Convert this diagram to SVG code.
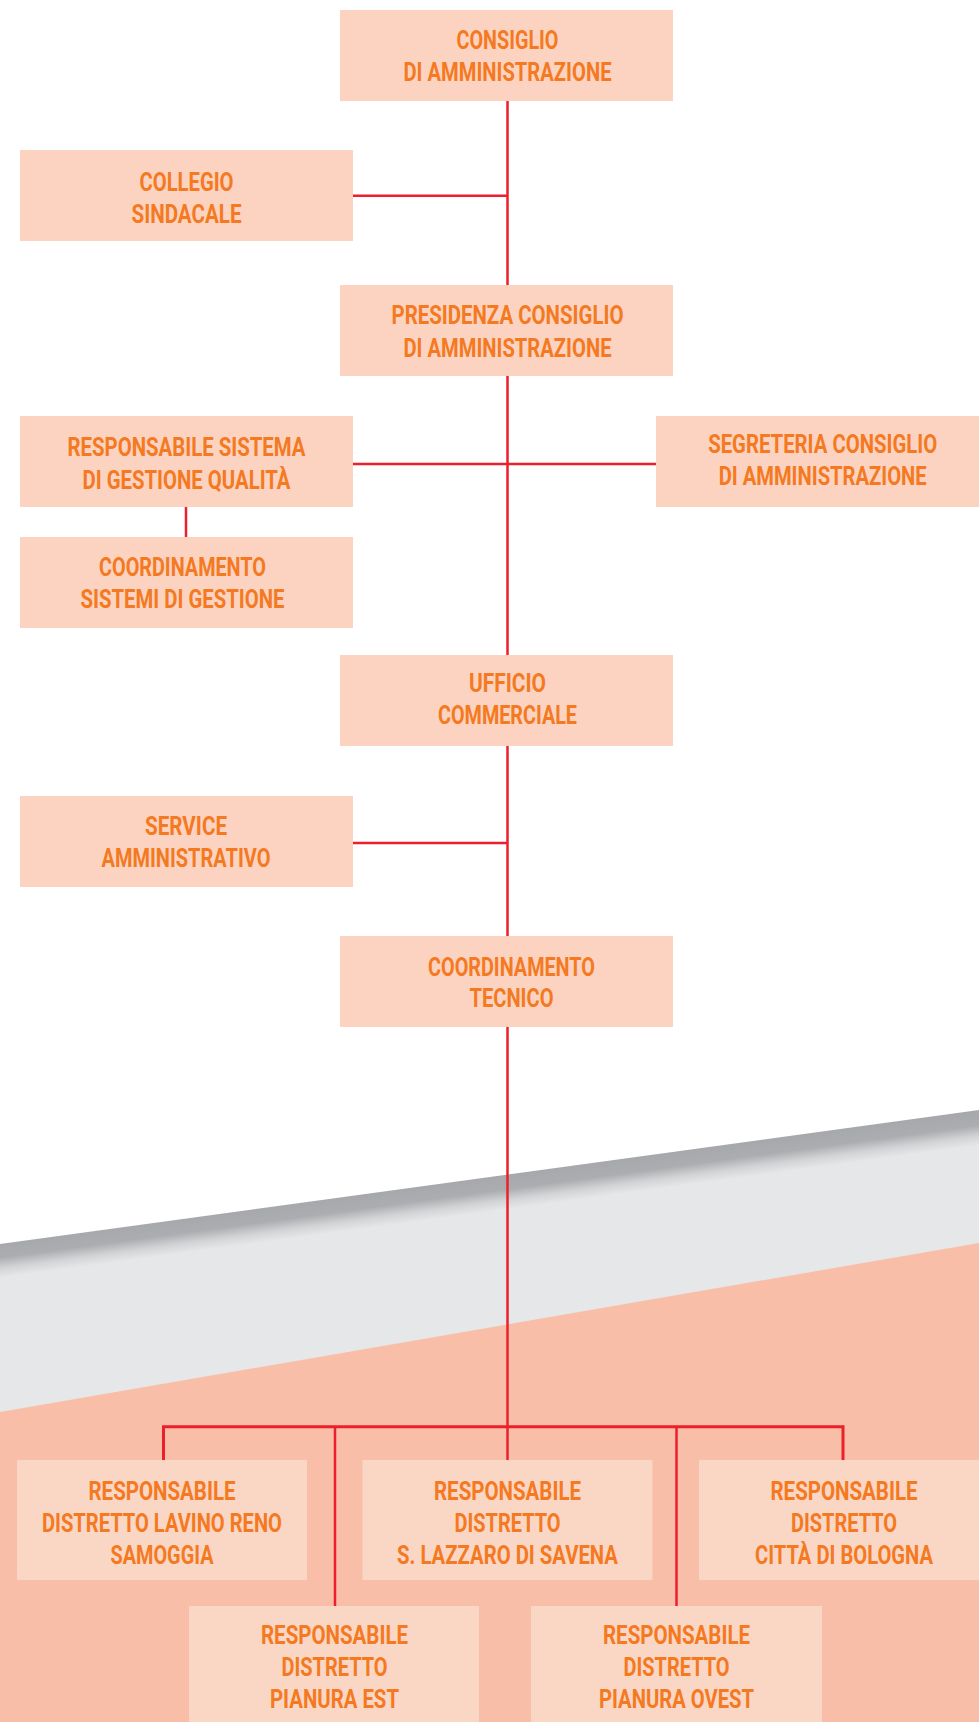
<svg xmlns="http://www.w3.org/2000/svg" width="979" height="1722" viewBox="0 0 979 1722">
  <defs>
    <style>
      .box { fill: #fcd3c1; }
      .box2 { fill: #fad6c5; }
      .lbl { font-family: Roboto, "Liberation Sans", "DejaVu Sans", sans-serif; font-weight: 700; font-size: 25px; fill: #f47920; text-anchor: middle; }
      .wire { fill: none; stroke: #ec1f2b; stroke-width: 2.5; }
      .bus { fill: none; stroke: #ec1f2b; stroke-width: 3; }
    </style>
    <!-- shadow falling across the grey band, perpendicular to its top edge -->
    <linearGradient id="bandShade" gradientUnits="userSpaceOnUse" x1="490" y1="1177" x2="494.6" y2="1211">
      <stop offset="0" stop-color="#a7a8ab"/>
      <stop offset="0.42" stop-color="#acadb0"/>
      <stop offset="0.72" stop-color="#d2d3d5"/>
      <stop offset="1" stop-color="#e6e7e8"/>
    </linearGradient>
  </defs>

  <!-- background -->
  <rect x="0" y="0" width="979" height="1722" fill="#ffffff"/>
  <polygon points="0,1244 979,1110 979,1722 0,1722" fill="url(#bandShade)"/>
  <polygon points="0,1412 979,1243 979,1722 0,1722" fill="#f9bea7"/>

  <!-- connectors -->
  <g id="connectors">
    <line class="wire" x1="507.5" y1="100" x2="507.5" y2="1460"/>
    <line class="wire" x1="353" y1="195.7" x2="507.5" y2="195.7"/>
    <line class="wire" x1="353" y1="464" x2="656" y2="464"/>
    <line class="wire" x1="186" y1="506" x2="186" y2="537"/>
    <line class="wire" x1="353" y1="843" x2="507.5" y2="843"/>
    <path class="bus" d="M163.5,1460 V1426.7 H843 V1460"/>
    <line class="wire" x1="335" y1="1426.7" x2="335" y2="1606"/>
    <line class="wire" x1="676.5" y1="1426.7" x2="676.5" y2="1606"/>
  </g>

  <g id="consiglio">
    <rect class="box" x="340" y="10" width="333" height="91"/>
    <text class="lbl" x="507.5" y="48.5" textLength="102" lengthAdjust="spacingAndGlyphs">CONSIGLIO</text>
    <text class="lbl" x="507.5" y="81" textLength="208" lengthAdjust="spacingAndGlyphs">DI AMMINISTRAZIONE</text>
  </g>

  <g id="collegio">
    <rect class="box" x="20" y="150" width="333" height="91"/>
    <text class="lbl" x="186.5" y="191" textLength="94" lengthAdjust="spacingAndGlyphs">COLLEGIO</text>
    <text class="lbl" x="186.5" y="222.7" textLength="110" lengthAdjust="spacingAndGlyphs">SINDACALE</text>
  </g>

  <g id="presidenza">
    <rect class="box" x="340" y="285" width="333" height="91"/>
    <text class="lbl" x="507.5" y="324.3" textLength="232" lengthAdjust="spacingAndGlyphs">PRESIDENZA CONSIGLIO</text>
    <text class="lbl" x="507.5" y="356.5" textLength="208" lengthAdjust="spacingAndGlyphs">DI AMMINISTRAZIONE</text>
  </g>

  <g id="resp-qualita">
    <rect class="box" x="20" y="416" width="333" height="91"/>
    <text class="lbl" x="186.5" y="456" textLength="238" lengthAdjust="spacingAndGlyphs">RESPONSABILE SISTEMA</text>
    <text class="lbl" x="186.5" y="488.5" textLength="208" lengthAdjust="spacingAndGlyphs">DI GESTIONE QUALITÀ</text>
  </g>

  <g id="segreteria">
    <rect class="box" x="656" y="416" width="323" height="91"/>
    <text class="lbl" x="822.7" y="453.3" textLength="229" lengthAdjust="spacingAndGlyphs">SEGRETERIA CONSIGLIO</text>
    <text class="lbl" x="822.7" y="485" textLength="208" lengthAdjust="spacingAndGlyphs">DI AMMINISTRAZIONE</text>
  </g>

  <g id="coord-sistemi">
    <rect class="box" x="20" y="537" width="333" height="91"/>
    <text class="lbl" x="182.5" y="576" textLength="167" lengthAdjust="spacingAndGlyphs">COORDINAMENTO</text>
    <text class="lbl" x="182.5" y="608" textLength="204" lengthAdjust="spacingAndGlyphs">SISTEMI DI GESTIONE</text>
  </g>

  <g id="ufficio-commerciale">
    <rect class="box" x="340" y="655" width="333" height="91"/>
    <text class="lbl" x="507.5" y="692" textLength="77" lengthAdjust="spacingAndGlyphs">UFFICIO</text>
    <text class="lbl" x="507.5" y="724" textLength="139" lengthAdjust="spacingAndGlyphs">COMMERCIALE</text>
  </g>

  <g id="service">
    <rect class="box" x="20" y="796" width="333" height="91"/>
    <text class="lbl" x="186" y="835" textLength="82" lengthAdjust="spacingAndGlyphs">SERVICE</text>
    <text class="lbl" x="186" y="867" textLength="169" lengthAdjust="spacingAndGlyphs">AMMINISTRATIVO</text>
  </g>

  <g id="coord-tecnico">
    <rect class="box" x="340" y="936" width="333" height="91"/>
    <text class="lbl" x="511.5" y="975.5" textLength="167" lengthAdjust="spacingAndGlyphs">COORDINAMENTO</text>
    <text class="lbl" x="511.5" y="1007" textLength="84" lengthAdjust="spacingAndGlyphs">TECNICO</text>
  </g>

  <g id="distretto-lavino">
    <rect class="box2" x="17" y="1460" width="290" height="120"/>
    <text class="lbl" x="162" y="1500" textLength="147" lengthAdjust="spacingAndGlyphs">RESPONSABILE</text>
    <text class="lbl" x="162" y="1532" textLength="240" lengthAdjust="spacingAndGlyphs">DISTRETTO LAVINO RENO</text>
    <text class="lbl" x="162" y="1564" textLength="103" lengthAdjust="spacingAndGlyphs">SAMOGGIA</text>
  </g>

  <g id="distretto-lazzaro">
    <rect class="box2" x="362.5" y="1460" width="290" height="120"/>
    <text class="lbl" x="507.5" y="1500" textLength="147" lengthAdjust="spacingAndGlyphs">RESPONSABILE</text>
    <text class="lbl" x="507.5" y="1532" textLength="106" lengthAdjust="spacingAndGlyphs">DISTRETTO</text>
    <text class="lbl" x="507.5" y="1564" textLength="221" lengthAdjust="spacingAndGlyphs">S. LAZZARO DI SAVENA</text>
  </g>

  <g id="distretto-bologna">
    <rect class="box2" x="699" y="1460" width="280" height="120"/>
    <text class="lbl" x="844" y="1500" textLength="147" lengthAdjust="spacingAndGlyphs">RESPONSABILE</text>
    <text class="lbl" x="844" y="1532" textLength="106" lengthAdjust="spacingAndGlyphs">DISTRETTO</text>
    <text class="lbl" x="844" y="1564" textLength="178" lengthAdjust="spacingAndGlyphs">CITTÀ DI BOLOGNA</text>
  </g>

  <g id="distretto-pianura-est">
    <rect class="box2" x="189" y="1606" width="290" height="116"/>
    <text class="lbl" x="334.5" y="1644" textLength="147" lengthAdjust="spacingAndGlyphs">RESPONSABILE</text>
    <text class="lbl" x="334.5" y="1676" textLength="106" lengthAdjust="spacingAndGlyphs">DISTRETTO</text>
    <text class="lbl" x="334.5" y="1708" textLength="129" lengthAdjust="spacingAndGlyphs">PIANURA EST</text>
  </g>

  <g id="distretto-pianura-ovest">
    <rect class="box2" x="531" y="1606" width="291" height="116"/>
    <text class="lbl" x="676.5" y="1644" textLength="147" lengthAdjust="spacingAndGlyphs">RESPONSABILE</text>
    <text class="lbl" x="676.5" y="1676" textLength="106" lengthAdjust="spacingAndGlyphs">DISTRETTO</text>
    <text class="lbl" x="676.5" y="1708" textLength="155" lengthAdjust="spacingAndGlyphs">PIANURA OVEST</text>
  </g>
</svg>
